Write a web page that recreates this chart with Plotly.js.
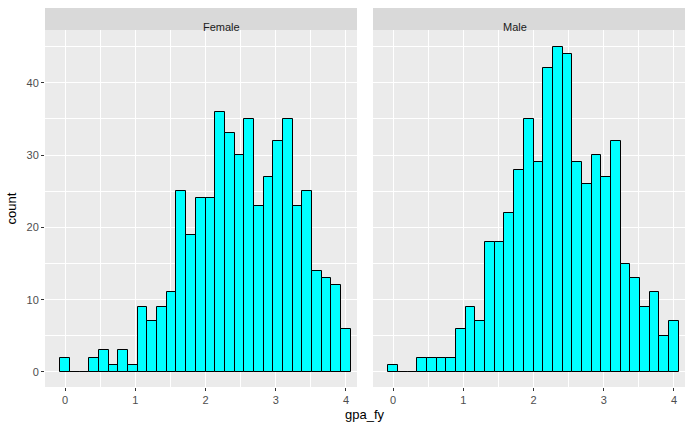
<!DOCTYPE html>
<html>
<head>
<script src="https://cdn.plot.ly/plotly-3.0.1.min.js"></script>
<style>body{margin:0;}</style>
</head>
<body>
<div id="chart" style="width:700px;height:432px;"></div>
<script>
// bin centres run from 0 to 4 in 30 equal steps
var bin_lo = 0;
var bin_hi = 4;
var female_counts = [2,0,0,2,3,1,3,1,9,7,9,11,25,19,24,24,36,33,30,35,23,27,32,35,23,25,14,13,12,6];
var male_counts = [1,0,0,2,2,2,2,6,9,7,18,18,22,28,35,29,42,45,44,29,26,30,27,32,15,13,9,11,5,7];
var panels = ["Female", "Male"];

var binwidth = (bin_hi - bin_lo) / (female_counts.length - 1);
var centres = female_counts.map((_, i) => bin_lo + i * binwidth);

function bar_trace(counts, xa, ya)
{
	return {
		type: "bar",
		x: centres,
		y: counts,
		width: binwidth,
		xaxis: xa,
		yaxis: ya,
		marker: {color: "#00FFFF", line: {color: "black", width: 1}},
		hoverinfo: "x+y"
	};
}

var xrange = [-0.285, 4.157];
var yrange = [-2.08, 47.3];

function x_axis(domain, anchor)
{
	return {
		domain: domain, anchor: anchor, range: xrange,
		tickvals: [0,1,2,3,4], ticks: "outside", ticklen: 3, tickcolor: "#333333",
		tickfont: {size: 11, color: "#4D4D4D"},
		showgrid: true, gridcolor: "white", gridwidth: 1.1, zeroline: false,
		minor: {tickvals: [0.5,1.5,2.5,3.5], showgrid: true, gridcolor: "white", gridwidth: 0.5, ticks: ""},
		showline: false
	};
}

function y_axis(anchor, labels)
{
	return {
		anchor: anchor, range: yrange, domain: [0, 1],
		tickvals: [0,10,20,30,40], ticks: labels ? "outside" : "", ticklen: 3, tickcolor: "#333333",
		showticklabels: labels, tickfont: {size: 11, color: "#4D4D4D"},
		showgrid: true, gridcolor: "white", gridwidth: 1.1, zeroline: false,
		minor: {tickvals: [5,15,25,35,45], showgrid: true, gridcolor: "white", gridwidth: 0.5, ticks: ""}
	};
}

var d1 = [0, 0.4875];
var d2 = [0.5125, 1];
var strip_top = 1 + 22 / 357;

var shapes = [];
var annotations = [];
[d1, d2].forEach((d, i) =>
{
	shapes.push({type: "rect", xref: "paper", yref: "paper", x0: d[0], x1: d[1], y0: 0, y1: 1,
		fillcolor: "#EBEBEB", line: {width: 0}, layer: "below"});
	shapes.push({type: "rect", xref: "paper", yref: "paper", x0: d[0], x1: d[1], y0: 1.0, y1: strip_top,
		fillcolor: "#D9D9D9", line: {width: 0}});
	annotations.push({xref: "paper", yref: "paper", x: (d[0] + d[1]) / 2, y: (1 + strip_top) / 2,
		text: panels[i], showarrow: false, font: {size: 11, color: "#1A1A1A"}});
});

var layout = {
	width: 700, height: 432,
	margin: {l: 45, r: 15, t: 30, b: 45},
	paper_bgcolor: "white", plot_bgcolor: "rgba(0,0,0,0)",
	font: {family: "Liberation Sans, Arial, sans-serif"},
	showlegend: false, bargap: 0,
	xaxis: x_axis(d1, "y"),
	xaxis2: x_axis(d2, "y2"),
	yaxis: Object.assign(y_axis("x", true), {title: {text: "count", font: {size: 13, color: "black"}, standoff: 6}}),
	yaxis2: y_axis("x2", false),
	shapes: shapes,
	annotations: annotations.concat([{xref: "paper", yref: "paper", x: 0.5, y: -0.078, yanchor: "middle",
		text: "gpa_fy", showarrow: false, font: {size: 13, color: "black"}}])
};

Plotly.newPlot("chart", [bar_trace(female_counts, "x", "y"), bar_trace(male_counts, "x2", "y2")], layout, {displayModeBar: false});
</script>
</body>
</html>
